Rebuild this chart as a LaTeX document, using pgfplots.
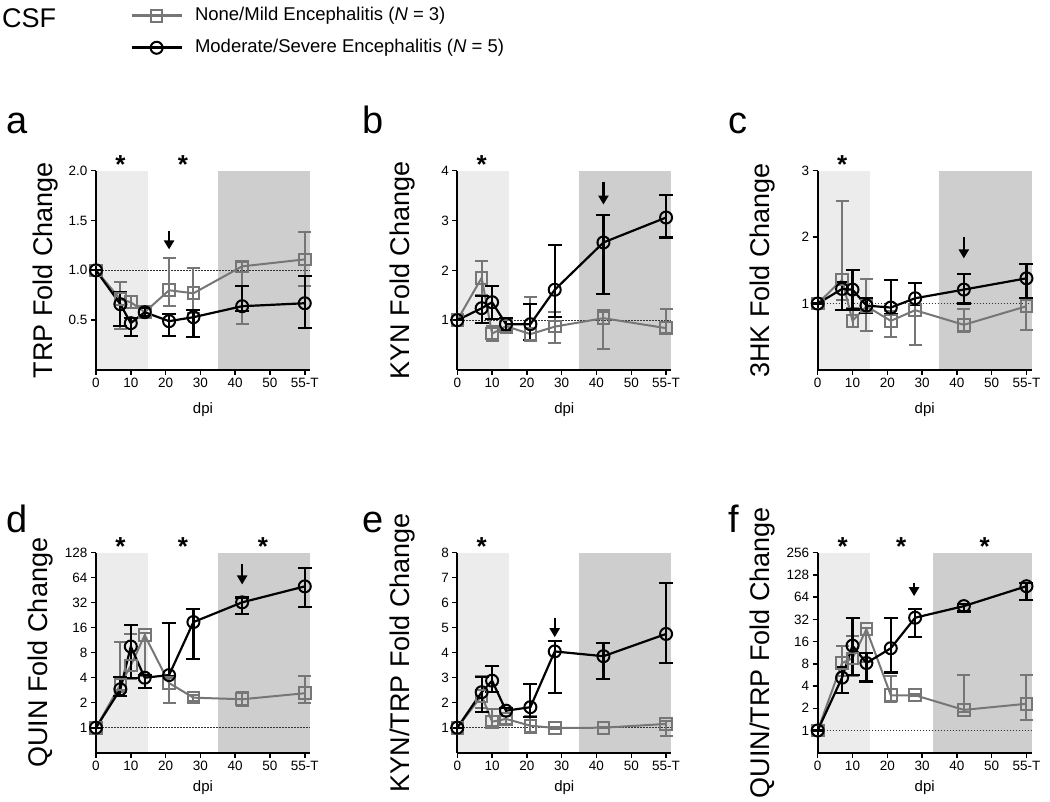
\documentclass[border=0pt]{standalone}
\usepackage{fontspec}
\setmainfont{Liberation Sans}
\usepackage{pgfplots}
\pgfplotsset{compat=1.18}
\usetikzlibrary{arrows.meta}

\definecolor{mildgray}{RGB}{118,118,118}
\definecolor{shadeA}{RGB}{236,236,236}
\definecolor{shadeB}{RGB}{206,206,206}

\newcommand{\fs}[1]{\fontsize{#1}{#1}\selectfont}

\pgfplotsset{
  panel/.style={
    scale only axis, width=214pt, height=199.3pt,
    axis x line*=bottom, axis y line*=left,
    axis line style={line width=2.2pt},
    xmin=0, xmax=61.5,
    xtick={0,10,20,30,40,50,60},
    xticklabels={0,10,20,30,40,50,55-T},
    tick align=outside, major tick length=5pt,
    tick style={line width=1.5pt, black},
    tick label style={font=\fs{13.5}},
    xlabel={dpi}, xlabel style={font=\fs{15}, at={(axis description cs:0.5,-0.2)}, anchor=center},
    ylabel style={font=\fs{27}, anchor=center},
    clip=false, axis on top,
    legend image code/.code={\draw[line width=2.8pt, mark repeat=2,mark phase=2] plot coordinates {(0pt,0pt) (25pt,0pt) (50pt,0pt)};},
  },
  mild/.style={mildgray, line width=2pt, mark=square, mark size=5.8pt,
    mark options={line width=2pt, solid},
    error bars/y dir=both, error bars/y explicit,
    error bars/error bar style={line width=2pt},
    error bars/error mark options={rotate=90, mark size=6.5pt, line width=2pt}},
  severe/.style={black, line width=2.2pt, mark=o, mark size=6pt,
    mark options={line width=2pt, solid},
    error bars/y dir=both, error bars/y explicit,
    error bars/error bar style={line width=2.2pt},
    error bars/error mark options={rotate=90, mark size=7pt, line width=2.2pt}},
  refline/.style={black!80, line width=1pt, dash pattern=on 1.5pt off 1.5pt, forget plot},
}

\newcommand{\sigstar}[2]{\node[font=\fs{26}\bfseries, anchor=base, inner sep=0pt] at (axis cs:#1,#2) [yshift=-3pt] {*};}
\newcommand{\downarr}[3]{\draw[line width=2.4pt, -{Triangle[width=10pt,length=9pt]}] (axis cs:#1,#2) -- (axis cs:#1,#3);}

\begin{document}
\begin{tikzpicture}
\path[use as bounding box] (0,0) rectangle (1050pt,801pt);

% ---------- a: TRP ----------
\begin{axis}[panel, at={(96pt,431pt)}, anchor=south west,
  ymin=0, ymax=2, ytick={0.5,1,1.5,2}, yticklabels={0.5,1.0,1.5,2.0},
  ylabel={TRP Fold Change}, ylabel style={at={(axis description cs:-0.236,0.5)}},
  legend style={draw=none, fill=none, at={(axis description cs:0.145,1.831)}, anchor=north west,
    font=\fs{18.5}, legend cell align=left, row sep=15pt,
    nodes={inner sep=0pt, text height=13pt, text depth=4pt},
    /tikz/every odd column/.append style={column sep=12pt}}]
\addplot[fill=shadeA, draw=none, forget plot] coordinates {(0,0) (15,0) (15,2) (0,2)} -- cycle;
\addplot[fill=shadeB, draw=none, forget plot] coordinates {(35,0) (61.5,0) (61.5,2) (35,2)} -- cycle;
\addplot[refline] coordinates {(0,1) (61.5,1)};
\addplot[mild] table[x=x, y=y, y error plus=ep, y error minus=em] {
x y ep em
0 1.00 0 0
7 0.71 0.17 0.30
10 0.68 0.06 0.06
14 0.58 0.05 0.05
21 0.80 0.32 0.16
28 0.77 0.25 0.20
42 1.04 0.04 0.58
60 1.11 0.27 0.27
};
\addlegendentry{None/Mild Encephalitis (\textit{N} = 3)}
\addplot[severe] table[x=x, y=y, y error plus=ep, y error minus=em] {
x y ep em
0 1.00 0 0
7 0.66 0.12 0.22
10 0.47 0.05 0.13
14 0.58 0.04 0.04
21 0.49 0.07 0.15
28 0.53 0.07 0.20
42 0.64 0.20 0.05
60 0.67 0.27 0.25
};
\addlegendentry{Moderate/Severe Encephalitis (\textit{N} = 5)}
\sigstar{7}{2}
\sigstar{25}{2}
\downarr{21}{1.39}{1.21}
\end{axis}

% ---------- b: KYN ----------
\begin{axis}[panel, at={(457.3pt,431pt)}, anchor=south west,
  ymin=0, ymax=4, ytick={1,2,3,4}, yticklabels={1,2,3,4},
  ylabel={KYN Fold Change}, ylabel style={at={(axis description cs:-0.254,0.5)}}]
\addplot[fill=shadeA, draw=none, forget plot] coordinates {(0,0) (15,0) (15,4) (0,4)} -- cycle;
\addplot[fill=shadeB, draw=none, forget plot] coordinates {(35,0) (61.5,0) (61.5,4) (35,4)} -- cycle;
\addplot[refline] coordinates {(0,1) (61.5,1)};
\addplot[mild] table[x=x, y=y, y error plus=ep, y error minus=em] {
x y ep em
0 1.00 0 0
7 1.85 0.34 0.34
10 0.73 0.15 0.15
14 0.88 0.13 0.13
21 0.72 0.74 0.13
28 0.87 0.30 0.33
42 1.04 0.17 0.62
60 0.84 0.38 0.10
};
\addplot[severe] table[x=x, y=y, y error plus=ep, y error minus=em] {
x y ep em
0 1.00 0 0
7 1.24 0.25 0.30
10 1.36 0.33 0.33
14 0.92 0.12 0.12
21 0.92 0.40 0.32
28 1.61 0.90 0.54
42 2.56 0.55 1.04
60 3.06 0.45 0.40
};
\sigstar{7}{4}
\downarr{42}{3.78}{3.32}
\end{axis}

% ---------- c: 3HK ----------
\begin{axis}[panel, at={(817.7pt,431pt)}, anchor=south west,
  ymin=0, ymax=3, ytick={1,2,3}, yticklabels={1,2,3},
  ylabel={3HK Fold Change}, ylabel style={at={(axis description cs:-0.256,0.5)}}]
\addplot[fill=shadeA, draw=none, forget plot] coordinates {(0,0) (15,0) (15,3) (0,3)} -- cycle;
\addplot[fill=shadeB, draw=none, forget plot] coordinates {(35,0) (61.5,0) (61.5,3) (35,3)} -- cycle;
\addplot[refline] coordinates {(0,1) (61.5,1)};
\addplot[mild] table[x=x, y=y, y error plus=ep, y error minus=em] {
x y ep em
0 1.00 0 0
7 1.36 1.18 0.30
10 0.74 0.20 0.10
14 0.96 0.41 0.38
21 0.74 0.15 0.24
28 0.90 0.10 0.52
42 0.68 0.24 0.11
60 0.96 0.10 0.36
};
\addplot[severe] table[x=x, y=y, y error plus=ep, y error minus=em] {
x y ep em
0 1.00 0 0
7 1.22 0.10 0.32
10 1.21 0.30 0.30
14 0.97 0.11 0.11
21 0.94 0.42 0.10
28 1.08 0.23 0.10
42 1.21 0.24 0.21
60 1.38 0.21 0.30
};
\sigstar{7}{3}
\downarr{42}{2.0}{1.68}
\end{axis}

% ---------- d: QUIN ----------
\begin{axis}[panel, at={(96pt,48.3pt)}, anchor=south west, height=200pt,
  ymode=log, log basis y=2, ymin=0.5, ymax=128,
  ytick={1,2,4,8,16,32,64,128}, yticklabels={1,2,4,8,16,32,64,128},
  xlabel style={at={(axis description cs:0.5,-0.177)}},
  ylabel={QUIN Fold Change}, ylabel style={at={(axis description cs:-0.259,0.5)}}]
\addplot[fill=shadeA, draw=none, forget plot] coordinates {(0,0.5) (15,0.5) (15,128) (0,128)} -- cycle;
\addplot[fill=shadeB, draw=none, forget plot] coordinates {(35,0.5) (61.5,0.5) (61.5,128) (35,128)} -- cycle;
\addplot[refline] coordinates {(0,1) (61.5,1)};
\addplot[mild] table[x=x, y=y, y error plus=ep, y error minus=em] {
x y ep em
0 1.00 0 0
7 3.3 7.4 0.6
10 5.6 7.8 1.7
14 13.0 1.0 8.8
21 3.45 0.55 1.45
28 2.3 0.2 0.2
42 2.2 0.5 0.36
60 2.6 1.6 0.6
};
\addplot[severe] table[x=x, y=y, y error plus=ep, y error minus=em] {
x y ep em
0 1.00 0 0
7 2.9 1.2 0.5
10 9.5 7.7 5.5
14 4.0 0.3 1.0
21 4.3 13.9 0.1
28 18.7 8.1 12.0
42 32.3 4.7 8.9
60 50.3 32.7 21.7
};
\sigstar{7}{128}
\sigstar{25}{128}
\sigstar{48}{128}
\downarr{42}{93}{53}
\end{axis}

% ---------- e: KYN/TRP ----------
\begin{axis}[panel, at={(457.3pt,48.3pt)}, anchor=south west, height=200pt,
  ymin=0, ymax=8, ytick={1,2,3,4,5,6,7,8}, yticklabels={1,2,3,4,5,6,7,8},
  xlabel style={at={(axis description cs:0.5,-0.177)}},
  ylabel={KYN/TRP Fold Change}, ylabel style={at={(axis description cs:-0.254,0.5)}}]
\addplot[fill=shadeA, draw=none, forget plot] coordinates {(0,0) (15,0) (15,8) (0,8)} -- cycle;
\addplot[fill=shadeB, draw=none, forget plot] coordinates {(35,0) (61.5,0) (61.5,8) (35,8)} -- cycle;
\addplot[refline] coordinates {(0,1) (61.5,1)};
\addplot[mild] table[x=x, y=y, y error plus=ep, y error minus=em] {
x y ep em
0 1.00 0 0
7 2.28 0.78 0.50
10 1.24 0.51 0.16
14 1.35 0.13 0.20
21 1.08 0.40 0.29
28 0.99 0.03 0.03
42 1.00 0.03 0.03
60 1.15 0.13 0.50
};
\addplot[severe] table[x=x, y=y, y error plus=ep, y error minus=em] {
x y ep em
0 1.00 0 0
7 2.42 0.60 0.80
10 2.88 0.60 0.46
14 1.68 0.10 0.10
21 1.82 0.92 0.40
28 4.05 0.41 1.66
42 3.86 0.52 0.91
60 4.75 2.05 1.16
};
\sigstar{7}{8}
\downarr{28}{5.4}{4.62}
\end{axis}

% ---------- f: QUIN/TRP ----------
\begin{axis}[panel, at={(817.7pt,48.3pt)}, anchor=south west, height=200pt,
  ymode=log, log basis y=2, ymin=0.5, ymax=256,
  ytick={1,2,4,8,16,32,64,128,256}, yticklabels={1,2,4,8,16,32,64,128,256},
  xlabel style={at={(axis description cs:0.5,-0.177)}},
  ylabel={QUIN/TRP Fold Change}, ylabel style={at={(axis description cs:-0.256,0.5)}}]
\addplot[fill=shadeA, draw=none, forget plot] coordinates {(0,0.5) (15,0.5) (15,256) (0,256)} -- cycle;
\addplot[fill=shadeB, draw=none, forget plot] coordinates {(33,0.5) (61.5,0.5) (61.5,256) (33,256)} -- cycle;
\addplot[refline] coordinates {(0,1) (61.5,1)};
\addplot[mild] table[x=x, y=y, y error plus=ep, y error minus=em] {
x y ep em
0 1.00 0 0
7 8.2 5.9 2.8
10 9.5 9.5 4.1
14 23.5 1.0 15.0
21 3.0 2.4 0.6
28 3.0 0.1 0.1
42 1.9 3.8 0.1
60 2.3 3.4 0.9
};
\addplot[severe] table[x=x, y=y, y error plus=ep, y error minus=em] {
x y ep em
0 1.00 0 0
7 5.2 2.0 2.0
10 14.1 18.9 8.4
14 8.2 3.0 3.6
21 13.0 20.0 6.9
28 33.7 10.3 15.4
42 48.4 3.0 7.4
60 90.0 10.0 31.0
};
\sigstar{7.2}{256}
\sigstar{24}{256}
\sigstar{48}{256}
\downarr{27.7}{98}{66}
\end{axis}

% ---------- titles and panel letters ----------
\node[font=\fs{27}, anchor=base west, inner sep=0pt] at (2pt,773pt) {CSF};
\node[font=\fs{38}, anchor=base west, inner sep=0pt] at (6pt,667pt) {a};
\node[font=\fs{38}, anchor=base west, inner sep=0pt] at (362pt,667pt) {b};
\node[font=\fs{38}, anchor=base west, inner sep=0pt] at (728pt,667pt) {c};
\node[font=\fs{38}, anchor=base west, inner sep=0pt] at (6pt,268pt) {d};
\node[font=\fs{38}, anchor=base west, inner sep=0pt] at (362pt,268pt) {e};
\node[font=\fs{38}, anchor=base west, inner sep=0pt] at (728pt,268pt) {f};
\end{tikzpicture}
\end{document}
